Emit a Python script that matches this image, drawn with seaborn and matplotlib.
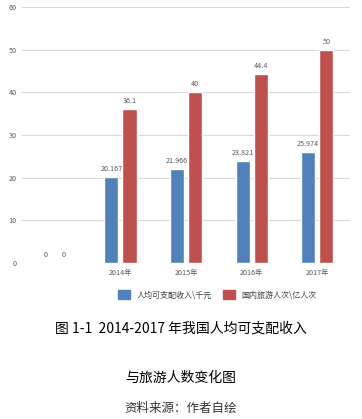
import matplotlib.pyplot as plt
import pandas as pd
import seaborn as sns
from matplotlib.patches import Patch

# Data
years = ["", "2014年", "2015年", "2016年", "2017年"]
income = [0, 20.167, 21.966, 23.821, 25.974]
income_labels = ["0", "20.167", "21.966", "23.821", "25.974"]
tourists = [0, 36.1, 40, 44.4, 50]
tourist_labels = ["0", "36.1", "40", "44.4", "50"]
series_names = ["人均可支配收入\\千元", "国内旅游人次\\亿人次"]
colors = ["#4F81BD", "#C0504D"]

df = pd.DataFrame({
    "year": years * 2,
    "value": income + tourists,
    "series": [series_names[0]] * len(years) + [series_names[1]] * len(years),
})

sns.set_style("white")
plt.rcParams['font.family'] = ['Noto Sans CJK SC', 'DejaVu Sans']

fig = plt.figure(figsize=(3.62, 4.19), dpi=100)
ax = fig.add_axes([0.061, 0.372, 0.906, 0.611])

sns.barplot(data=df, x="year", y="value", hue="series", order=years,
            hue_order=series_names, palette=colors, width=0.55, gap=0.22,
            saturation=1, legend=False, ax=ax)

for cont, labs in zip(ax.containers, [income_labels, tourist_labels]):
    ax.bar_label(cont, labels=labs, padding=3, fontsize=5.2, color="#595959")

ax.set_ylim(0, 60)
ax.set_xlim(-0.5, 4.5)
ax.set_yticks(range(0, 61, 10))
ax.yaxis.grid(True, color="#D9D9D9", linewidth=0.8)
ax.set_axisbelow(True)
for s in ax.spines.values():
    s.set_visible(False)
ax.tick_params(axis="both", length=0, labelsize=5.2, labelcolor="#595959", pad=4)
ax.set_xlabel("")
ax.set_ylabel("")

handles = [Patch(color=c) for c in colors]
fig.legend(handles, series_names, loc="center left", bbox_to_anchor=(0.305, 0.296),
           ncol=2, frameon=False, fontsize=5.8, handlelength=1.5, handleheight=1.3,
           handletextpad=0.8, columnspacing=1.4, labelcolor="#404040")

# caption
fig.text(0.5, 0.217, "图 1-1  2014-2017 年我国人均可支配收入", ha="center", va="center",
         fontsize=10, color="black")
fig.text(0.5, 0.098, "与旅游人数变化图", ha="center", va="center", fontsize=10, color="black")
fig.text(0.5, 0.026, "资料来源：作者自绘", ha="center", va="center", fontsize=9, color="#333333")

fig.savefig("out.png")
